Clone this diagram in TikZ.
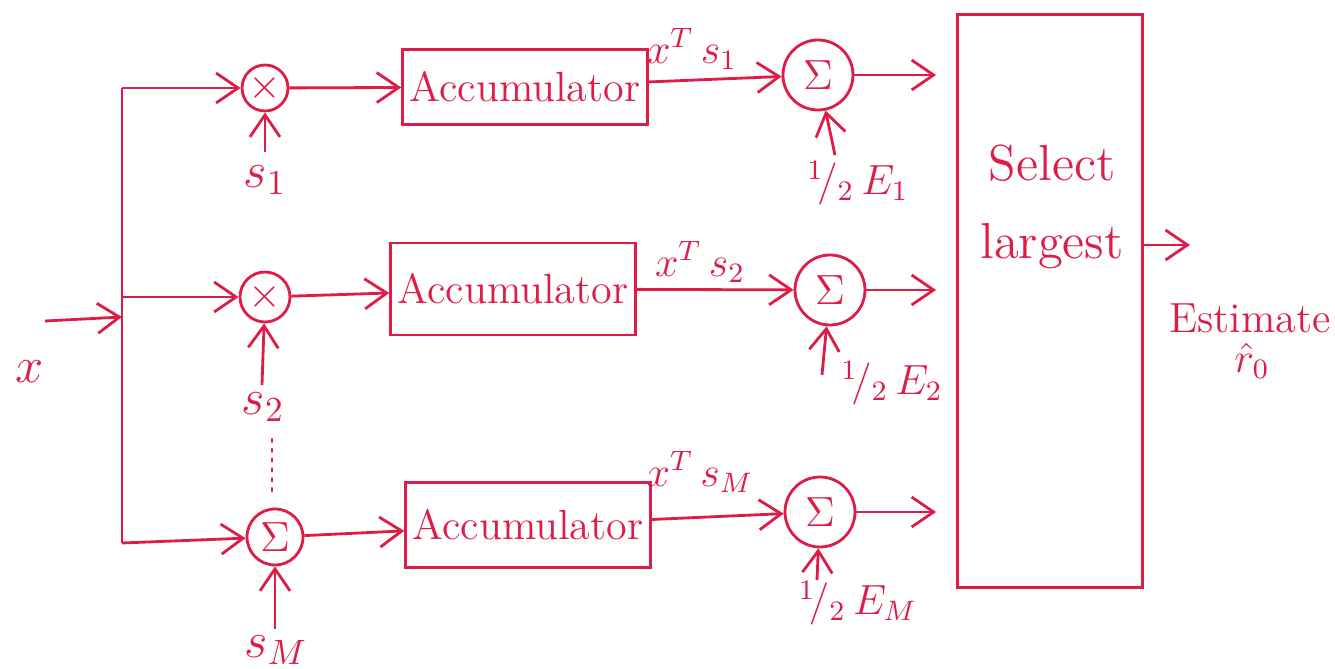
\documentclass[tikz,border=0pt]{standalone}
\usepackage{amsmath,amssymb}
\usepackage{tikz}
\usetikzlibrary{arrows.meta,calc,positioning}
\definecolor{pen}{RGB}{222,28,72}
\tikzset{
  box/.style   = {draw=pen, thick, text=pen, font=\large, inner sep=2pt},
  junc/.style  = {circle, draw=pen, thick, text=pen, font=\large, inner sep=0pt},
  wire/.style  = {thick, draw=pen},
  vec/.style   = {-{Straight Barb[length=2.2mm,width=3mm]}, thick, draw=pen},
  lab/.style   = {text=pen, font=\Large},
}

\begin{document}
\begin{tikzpicture}[x=1cm,y=1cm]
  \useasboundingbox (0,0) rectangle (13.35,6.69);
  % input and bus
  \coordinate (xin) at (0.45,3.48);
  \coordinate (j) at (1.22,3.52);
  \coordinate (jb) at (1.22,3.72);
  \coordinate (bt) at (1.22,5.81);
  \coordinate (bb) at (1.22,1.26);
  \draw[wire] (bt) -- (bb);
  \draw[vec] (xin) -- (j);
  \node[lab] (xl) at (0.30,2.97) {$x$};
  %
  \node[junc, minimum size=4.6mm] (m1) at (2.65,5.81) {$\times$};
  \node[junc, minimum size=5.0mm] (m2) at (2.65,3.72) {$\times$};
  \node[junc, minimum size=5.6mm] (m3) at (2.75,1.32) {$\Sigma$};
  \draw[vec] (bt) -- (m1); \draw[vec] (jb) -- (m2); \draw[vec] (bb) -- (m3);
  %
  \coordinate (s1) at (2.65,5.17);
  \coordinate (s2) at (2.62,2.84);
  \coordinate (sM) at (2.75,0.40);
  \draw[vec] (s1) -- (m1); \draw[vec] (s2) -- (m2); \draw[vec] (sM) -- (m3);
  \node[lab] (s1l) at (2.65,4.89) {$s_1$};
  \node[lab] (s2l) at (2.63,2.62) {$s_2$};
  \node[lab] (sMl) at (2.76,0.19) {$s_M$};
  \draw[pen, thick, dotted, line cap=round] (2.72,2.30) -- (2.72,1.74);
  %
  \node[box, minimum width=24mm, minimum height=7.5mm] (a1) at (5.25,5.82) {Accumulator};
  \node[box, minimum width=23mm, minimum height=9.2mm] (a2) at (5.13,3.80) {Accumulator};
  \node[box, minimum width=20mm, minimum height=8.5mm] (a3) at (5.28,1.44) {Accumulator};
  \draw[vec] (m1) -- (a1); \draw[vec] (m2) -- (a2); \draw[vec] (m3) -- (a3);
  %
  \node[junc, minimum size=7mm] (e1) at (8.18,5.94) {$\Sigma$};
  \node[junc, minimum size=7mm] (e2) at (8.30,3.79) {$\Sigma$};
  \node[junc, minimum size=7mm] (e3) at (8.20,1.57) {$\Sigma$};
  \draw[vec] (a1) -- (e1); \draw[vec] (a2) -- (e2); \draw[vec] (a3) -- (e3);
  \node[lab, font=\large] (p1) at (6.92,6.20) {$x^{T}\,s_1$};
  \node[lab, font=\large] (p2) at (7.00,4.07) {$x^{T}\,s_2$};
  \node[lab, font=\large] (p3) at (7.00,1.97) {$x^{T}\,s_M$};
  %
  \coordinate (h1) at (8.35,5.14);
  \coordinate (h2) at (8.22,2.94);
  \coordinate (h3) at (8.17,0.89);
  \draw[vec] (h1) -- (e1); \draw[vec] (h2) -- (e2); \draw[vec] (h3) -- (e3);
  \node[lab, font=\large] (h1l) at (8.58,4.86) {${}^1\!/_2\,E_1$};
  \node[lab, font=\large] (h2l) at (8.92,2.86) {${}^1\!/_2\,E_2$};
  \node[lab, font=\large] (h3l) at (8.58,0.66) {${}^1\!/_2\,E_M$};
  %
  \node[draw=pen, thick, minimum width=18.5mm, minimum height=57.3mm] (sel) at (10.50,3.68) {};
  \node[lab, align=center] (sell) at (10.52,4.62) {Select\\[4pt]largest};
  \draw[vec, shorten >=2mm] (e1) -- (e1 -| sel.west);
  \draw[vec, shorten >=2mm] (e2) -- (e2 -| sel.west);
  \draw[vec, shorten >=2mm] (e3) -- (e3 -| sel.west);
  %
  \coordinate (out) at (11.90,4.24);
  \draw[vec] (sel.east |- out) -- (out);
  \node[lab, font=\large] (est) at (12.50,3.51) {Estimate};
  \node[lab, font=\large] (r0) at (12.52,3.08) {$\hat{r}_0$};
\end{tikzpicture}
\end{document}
